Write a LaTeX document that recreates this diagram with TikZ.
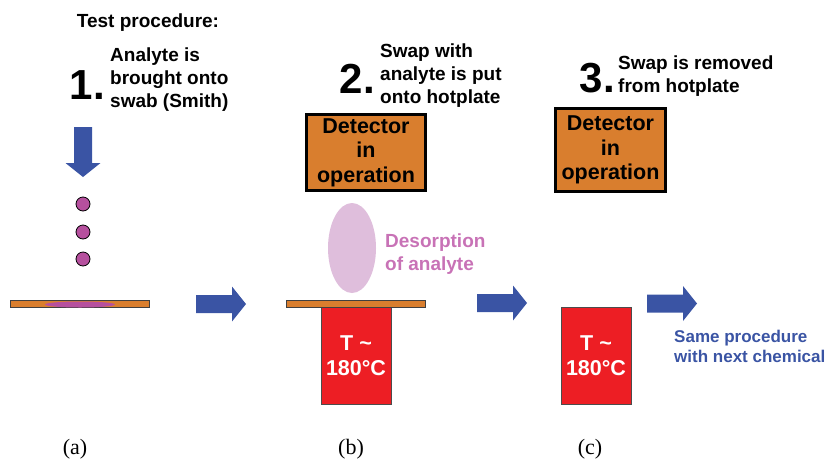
\documentclass[tikz,border=0pt]{standalone}
\usepackage{fontspec}
\setmainfont{Liberation Sans}
\newfontfamily\capfont{Liberation Serif}
\usetikzlibrary{positioning}

\definecolor{swaborange}{RGB}{217,126,46}
\definecolor{platered}{RGB}{237,30,36}
\definecolor{arrowblue}{RGB}{58,84,164}
\definecolor{analyte}{RGB}{182,80,158}
\definecolor{vapour}{RGB}{223,190,220}
\definecolor{vapourtext}{RGB}{200,114,182}

\tikzset{
	blockarrow/.pic={
		\fill[arrowblue] (0,-9) -- (36,-9) -- (36,-17.5) -- (50,0) -- (36,17.5) -- (36,9) -- (0,9) -- cycle;
	}
}

\begin{document}
\begin{tikzpicture}[x=1pt, y=-1pt, every node/.style={inner sep=0pt},
	heading/.style={font=\fontsize{19}{22}\selectfont\bfseries},
	stepnum/.style={font=\fontsize{42}{42}\selectfont\bfseries, anchor=base east},
	steptext/.style={font=\fontsize{19}{23}\selectfont\bfseries, align=left, anchor=north west},
	detector/.style={draw=black, line width=3pt, fill=swaborange, align=center, font=\fontsize{21.5}{24.5}\selectfont\bfseries},
	hotplate/.style={draw=black!70, line width=0.8pt, fill=platered, text=white, align=center, minimum width=70pt, minimum height=97pt, font=\fontsize{21.5}{25}\selectfont\bfseries},
	swab/.style={draw=black!75, line width=0.8pt, fill=swaborange, minimum width=139pt, minimum height=7pt},
	droplet/.style={circle, draw=black, line width=0.8pt, fill=analyte, minimum size=14pt},
	caption/.style={font=\capfont\fontsize{22}{22}\selectfont}]
	\useasboundingbox (0,0) rectangle (826,461);

	\node[heading, anchor=north] (title) at (148,14) {Test procedure:};

	% (a) analyte onto swab
	\node[steptext] (step1) at (110,48) {Analyte is\\brought onto\\swab (Smith)};
	\node[stepnum] (num1) at (105,99) {1.};
	\pic[rotate=-90] at (83,127) {blockarrow};
	\foreach \y [count=\i] in {204,232,259}
		\node[droplet] (drop\i) at (83,\y) {};
	\node[swab] (swab1) at (79.5,304) {};
	\fill[analyte] (80,304.5) ellipse [x radius=35pt, y radius=3pt];
	\pic at (196,304) {blockarrow};

	% (b) swab on the hotplate
	\node[steptext] (step2) at (380,44) {Swap with\\analyte is put\\onto hotplate};
	\node[stepnum] (num2) at (375,93) {2.};
	\node[detector, minimum width=119pt, minimum height=76pt] (det2) at (366,152.5) {Detector\\in\\operation};
	\fill[vapour] (352,248) ellipse [x radius=24pt, y radius=45pt];
	\node[steptext, text=vapourtext] (desorb) at (385,233.5) {Desorption\\of analyte};
	\node[hotplate] (plate2) at (356,355.5) {T \textasciitilde\\180°C};
	\node[swab] (swab2) at (355.5,304) {};
	\pic at (477,303) {blockarrow};

	% (c) swab removed
	\node[steptext] (step3) at (618,56) {Swap is removed\\from hotplate};
	\node[stepnum] (num3) at (615,92) {3.};
	\node[detector, minimum width=110pt, minimum height=83pt] (det3) at (610.5,150) {Detector\\in\\operation};
	\node[hotplate] (plate3) at (596,355.5) {T \textasciitilde\\180°C};
	\pic at (647,303.5) {blockarrow};
	\node[anchor=north west, align=left, text=arrowblue, font=\fontsize{17}{20}\selectfont\bfseries] (next) at (674,330) {Same procedure\\with next chemical};

	\node[caption] (capa) at (75,449.5) {(a)};
	\node[caption] (capb) at (351,449.5) {(b)};
	\node[caption] (capc) at (590,449.5) {(c)};
\end{tikzpicture}
\end{document}
